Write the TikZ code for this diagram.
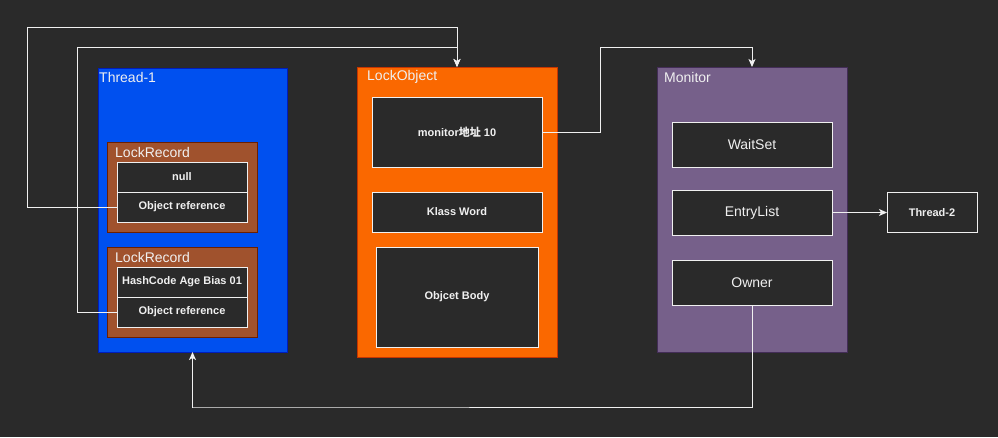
\documentclass[tikz,border=0pt]{standalone}
\usepackage{fontspec}
\setmainfont{Liberation Sans}
\newfontfamily\cjk{Noto Sans CJK SC}
\usepackage{tikz}
\usetikzlibrary{positioning}
\usetikzlibrary{arrows.meta}
\definecolor{bgdark}{RGB}{42,42,42}
\definecolor{threadblue}{RGB}{0,80,239}
\definecolor{threadedge}{RGB}{0,29,188}
\definecolor{recbrown}{RGB}{160,82,45}
\definecolor{recedge}{RGB}{109,31,0}
\definecolor{objorange}{RGB}{250,104,0}
\definecolor{objedge}{RGB}{199,53,0}
\definecolor{monpurple}{RGB}{118,96,138}
\definecolor{monedge}{RGB}{67,45,87}
\definecolor{textlight}{RGB}{240,240,240}
\newcommand{\widthcell}{130pt}
\newcommand{\heightcell}{30pt}
\newcommand{\widthmon}{160pt}
\newcommand{\heightmon}{45pt}
\tikzset{
    common/.style={anchor=north west, draw, rectangle, inner sep=0pt, outer sep=0pt, line width=1pt},
    thread/.style={common, fill=threadblue, draw=threadedge},
    record/.style={common, fill=recbrown, draw=recedge, minimum width=150pt, minimum height=90pt},
    object/.style={common, fill=objorange, draw=objedge},
    monitorbox/.style={common, fill=monpurple, draw=monedge},
    cell/.style={common, fill=bgdark, draw=textlight, text=textlight, font=\fontsize{11}{13}\selectfont\bfseries},
    reccell/.style={cell, minimum width=\widthcell, minimum height=\heightcell},
    moncell/.style={cell, minimum width=\widthmon, minimum height=\heightmon, font=\fontsize{14}{16}\selectfont},
    title/.style={anchor=west, inner sep=0pt, text=textlight, font=\fontsize{14}{16}\selectfont},
    link/.style={draw=textlight, line width=1pt},
    >={Stealth[length=8pt, width=7pt, inset=2pt]}
}
\begin{document}
\begin{tikzpicture}[x=1pt, y=-1pt]
    \fill[bgdark] (0,0) rectangle (998,437);
    \useasboundingbox (0,0) rectangle (998,437);

    % thread 1 with its lock records
    \node[thread, minimum width=189pt, minimum height=284pt] (thread1) at (98,68) {};
    \node[title] (thread1t) at (99,77) {Thread-1};
    \node[record] (rec1) at (107,142) {};
    \node[title] (rec1t) at (115,152) {LockRecord};
    \node[reccell] (null1) at (117,162) {null};
    \node[reccell, below=0pt of null1] (ref1) {Object reference};
    \node[record] (rec2) at (107,247) {};
    \node[title] (rec2t) at (115,257) {LockRecord};
    \node[reccell] (hash2) at (117,267) {HashCode Age Bias 01};
    \node[reccell, below=0pt of hash2] (ref2) {Object reference};

    % lock object
    \node[object, minimum width=200pt, minimum height=290pt] (lockobj) at (357,67) {};
    \node[title] (lockobjt) at (367,77) {LockObject};
    \node[cell, minimum width=170pt, minimum height=70pt] (monaddr) at (372,97) {monitor{\cjk 地址} 10};
    \node[cell, minimum width=170pt, minimum height=40pt] (klass) at (372,192) {Klass Word};
    \node[cell, minimum width=162pt, minimum height=100pt] (body) at (376,247) {Objcet Body};

    % monitor
    \node[monitorbox, minimum width=190pt, minimum height=285pt] (monitor) at (657,67) {};
    \node[title] (monitort) at (664,77) {Monitor};
    \node[moncell] (waitset) at (672,122) {WaitSet};
    \node[moncell] (entry) at (672,190) {EntryList};
    \node[moncell] (owner) at (672,260) {Owner};
    \node[cell, minimum width=90pt, minimum height=40pt, right=55pt of entry] (thread2) {Thread-2};

    \coordinate (loopa) at (27,27);
    \coordinate (loopb) at (77,47);
    \coordinate (loopc) at (600,47);
    \coordinate (loopd) at (192,407);

    \draw[link, ->] (ref1.west) -| (loopa) -| (lockobj.north);
    \draw[link, ->] (ref2.west) -| (loopb) -| (lockobj.north);
    \draw[link, ->] (monaddr.east) -| (loopc) -| (monitor.north);
    \draw[link, ->] (entry.east) -- (thread2.west);
    \draw[link, ->] (owner.south) |- (loopd) -| (thread1.south);
\end{tikzpicture}
\end{document}
